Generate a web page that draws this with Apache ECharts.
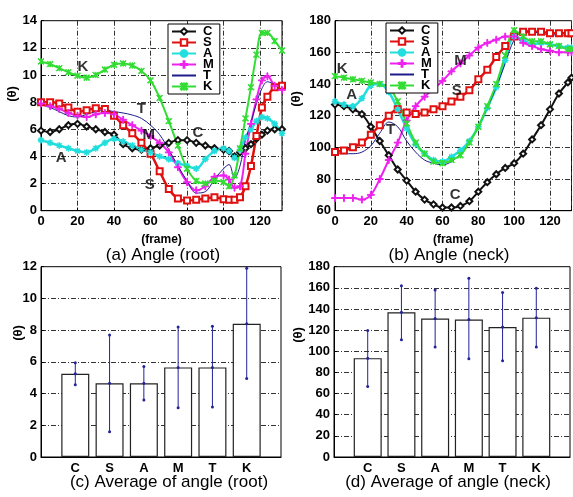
<!DOCTYPE html>
<html>
<head>
<meta charset="utf-8">
<script src="https://cdn.jsdelivr.net/npm/echarts@6/dist/echarts.min.js"></script>
<style>
html,body{margin:0;padding:0;background:#fff}
#main{width:573px;height:497px}
</style>
</head>
<body>
<div id="main"></div>
<script>
// subjects
var names = ['C', 'S', 'A', 'M', 'T', 'K'];

// (a) root angle per frame
var framesRoot = [0,5,10,15,20,25,30,35,40,45,50,55,60,65,70,75,80,85,90,95,100,103,106,109,112,115,118,121,124,128,132];
var rootC = [5.9,5.8,6.0,6.3,6.4,6.2,6.0,5.8,5.6,4.9,4.6,4.5,4.6,4.8,5.0,5.2,5.2,5.0,4.8,4.6,4.5,4.4,4.0,4.3,4.6,4.9,5.3,5.6,5.9,6.0,6.0];
var rootS = [8.0,8.0,7.9,7.6,7.3,7.4,7.55,7.5,7.0,6.3,5.7,5.0,4.2,2.9,1.6,0.9,0.75,0.8,0.9,1.0,0.85,0.8,0.8,1.0,1.8,3.3,5.5,7.6,8.4,9.1,9.2];
var rootA = [5.2,5.0,4.8,4.6,4.4,4.3,4.6,5.0,5.3,5.1,4.8,4.5,4.3,4.0,3.8,3.5,3.3,3.1,3.8,4.4,4.6,4.4,3.9,4.5,5.4,6.0,6.6,6.9,6.8,6.4,5.7];
var rootM = [7.9,7.7,7.5,7.2,7.0,6.9,7.1,7.2,7.1,6.7,6.3,5.9,5.5,5.0,4.3,3.2,2.1,1.5,1.8,2.5,2.6,2.3,1.7,1.8,4.2,6.4,8.2,9.6,9.9,9.2,8.9];
var rootT = [7.8,7.6,7.3,7.0,6.9,7.1,7.3,7.4,7.3,7.2,7.05,6.8,6.3,5.6,4.5,3.3,2.2,1.3,1.4,2.3,3.1,3.4,2.4,3.3,5.2,6.5,7.9,9.0,9.5,9.3,9.0];
var rootK = [11.0,10.8,10.5,10.2,9.95,9.8,10.0,10.4,10.75,10.85,10.7,10.3,9.6,8.3,6.6,4.8,3.1,2.2,2.0,2.2,2.1,1.8,2.6,4.6,6.8,9.1,11.5,13.1,13.1,12.5,11.8];

// (b) neck angle per frame
var framesNeck = [0,5,10,15,20,25,30,35,40,45,50,55,60,65,70,75,80,85,90,95,100,105,110,115,120,125,130,132];
var neckC = [127,126,124,121,113,104,95,86,79,72,67,64,62,62,63,66,72,78,83,87,90,96,105,114,124,134,141,144];
var neckS = [97,98,100,103,108,114,120,124,122,121,122,124,126,129,132,136,143,149,157,164,170,173,173,173,172,172,172,172];
var neckA = [129,127,126,131,139,140,135,124,112,102,96,92,91,94,98,104,113,125,138,155,170,168,165,166,165,164,163,163];
var neckM = [68,68,68,67,70,80,92,103,117,126,132,137,142,148,153,158,163,166,168,170,170,166,164,162,161,160,160,160];
var neckT = [96,96,96,97,101,109,116,113,104,97,92,90,89,91,96,103,113,125,138,153,168,174,173,172,171,171,170,170];
var neckK = [145,144,143,142,141,140,138,129,115,103,96,91,90,92,95,103,113,126,140,158,174,170,167,167,165,164,162,162];

// curve tags: [text, frame, value]
var rootTags = [['K',23,10.6],['T',55,7.5],['M',59,5.6],['C',86,5.7],['A',11,3.9],['S',59.5,1.9]];
var neckTags = [['K',4,149.5],['A',9.3,133],['T',31,111],['M',70,154.5],['S',68,136],['C',67,70]];

// (c) / (d) averages with error bar ends
var avgRoot = [5.25,4.65,4.65,5.65,5.65,8.4];
var avgRootLow = [4.55,1.6,3.6,3.1,3.15,4.95];
var avgRootHigh = [5.95,7.7,5.7,8.2,8.25,11.9];
var avgNeck = [93.5,136.8,131,130,123,131.8];
var avgNeckLow = [66.7,111,104,93,91,104];
var avgNeckHigh = [119.6,162,158,169,155.7,159.7];

var plusPath = 'path://M-1,-0.13L1,-0.13L1,0.13L-1,0.13Z M-0.13,-1L0.13,-1L0.13,1L-0.13,1Z';
var starPath = 'path://M-1,-0.12L1,-0.12L1,0.12L-1,0.12Z M-0.12,-1L0.12,-1L0.12,1L-0.12,1Z M-0.8,-0.63L0.63,0.8L0.8,0.63L-0.63,-0.8Z M0.63,-0.8L0.8,-0.63L-0.63,0.8L-0.8,0.63Z';
var xPath = 'path://M-1,-0.8L0.8,1L1,0.8L-0.8,-1Z M0.8,-1L1,-0.8L-0.8,1L-1,0.8Z M-0.12,-0.9L0.12,-0.9L0.12,0.9L-0.12,0.9Z';

var look = {
    C: {color: '#111', symbol: 'emptyDiamond', size: 6, width: 2},
    S: {color: '#e01010', symbol: 'emptyRect', size: 6, width: 2.5},
    A: {color: '#22dede', symbol: starPath, size: 6, width: 2.5},
    M: {color: '#ee22ee', symbol: plusPath, size: 7, width: 2},
    T: {color: '#1c1c8a', symbol: 'none', size: 0, width: 1},
    K: {color: '#33dd33', symbol: xPath, size: 6, width: 2}
};
var navy = '#22229a';
var dashDot = [5, 2, 1, 2];
var fontFam = 'Liberation Sans, Arial, sans-serif';
var tickFont = {fontSize: 13, fontWeight: 'bold', color: '#000', fontFamily: fontFam};

function pts(xs, ys) {
    return xs.map(function(x, i) { return [x, ys[i]]; });
}

function lineSeries(idx, frames, list) {
    return names.map(function(n, i) {
        var lk = look[n];
        return {
            name: n, type: 'line', xAxisIndex: idx, yAxisIndex: idx,
            data: pts(frames, list[i]),
            smooth: 0.35,
            symbol: lk.symbol, symbolSize: lk.size, showSymbol: lk.symbol !== 'none',
            lineStyle: {color: lk.color, width: lk.width},
            itemStyle: {color: lk.color, borderColor: lk.color, borderWidth: 1},
            emphasis: {disabled: true},
            z: 3
        };
    });
}

function tagSeries(idx, tags) {
    return {
        type: 'scatter', xAxisIndex: idx, yAxisIndex: idx,
        symbolSize: 1, itemStyle: {color: 'rgba(0,0,0,0)'},
        data: tags.map(function(t) { return {name: t[0], value: [t[1], t[2]]}; }),
        label: {show: true, position: 'inside', formatter: '{b}', fontSize: 15, fontWeight: 'bold', color: '#000',
            fontFamily: fontFam},
        z: 6, silent: true
    };
}

function barSeries(idx, avg) {
    return {
        type: 'bar', xAxisIndex: idx, yAxisIndex: idx, barWidth: 28,
        data: avg.map(function(v, i) { return [i + 1, v]; }),
        itemStyle: {color: '#fff', borderColor: '#222', borderWidth: 1.2},
        silent: true
    };
}

function errSeries(idx, low, avg, high) {
    return {
        type: 'custom', xAxisIndex: idx, yAxisIndex: idx, z: 5, silent: true,
        data: avg.map(function(v, i) { return [i + 1, low[i], v, high[i]]; }),
        renderItem: function(params, api) {
            var x = api.value(0);
            var pl = api.coord([x, api.value(1)]);
            var pm = api.coord([x, api.value(2)]);
            var ph = api.coord([x, api.value(3)]);
            var dot = function(p) { return {type: 'circle', shape: {cx: p[0], cy: p[1], r: 1.5}, style: {fill: navy}}; };
            return {type: 'group', children: [
                {type: 'line', shape: {x1: pl[0], y1: pl[1], x2: ph[0], y2: ph[1]}, style: {stroke: navy, lineWidth: 1}},
                dot(pl), dot(pm), dot(ph)
            ]};
        }
    };
}

function frameAxis(idx) {
    return {
        type: 'value', gridIndex: idx, min: 0, max: 132, interval: 20,
        name: '(frame)', nameLocation: 'middle', nameGap: 23,
        nameTextStyle: {fontSize: 12, fontWeight: 'bold', color: '#000', fontFamily: fontFam},
        axisLine: {lineStyle: {color: '#000'}},
        axisTick: {inside: true, length: 3, lineStyle: {color: '#000'}},
        axisLabel: Object.assign({margin: 4, showMaxLabel: false}, tickFont),
        splitLine: {show: true, lineStyle: {color: '#333', type: dashDot}}
    };
}

function catAxis(idx) {
    return {
        type: 'value', gridIndex: idx, min: 0, max: 7, interval: 1,
        axisLine: {lineStyle: {color: '#000'}},
        axisTick: {show: false},
        axisLabel: Object.assign({margin: 5, formatter: function(v) { return names[v - 1] || ''; }}, tickFont),
        splitLine: {show: false}
    };
}

function valAxis(idx, min, max, step) {
    return {
        type: 'value', gridIndex: idx, min: min, max: max, interval: step,
        axisLine: {show: true, lineStyle: {color: '#000'}},
        axisTick: {inside: true, length: 3, lineStyle: {color: '#000'}},
        axisLabel: Object.assign({margin: 4}, tickFont),
        splitLine: {show: true, lineStyle: {color: '#333', type: dashDot}}
    };
}

function legendAt(left, top) {
    return {
        data: names.map(function(n) {
            return n === 'T' ? {name: n, itemStyle: {opacity: 0}} : {name: n};
        }),
        orient: 'vertical', left: left, top: top,
        backgroundColor: '#fff', borderColor: '#000', borderWidth: 1,
        padding: [1, 6, 1, 3], itemGap: -2, itemWidth: 24, itemHeight: 8,
        selectedMode: false,
        textStyle: {fontSize: 13, fontWeight: 'bold', color: '#000', lineHeight: 10, padding: [0, 0, 0, 2],
            fontFamily: fontFam}
    };
}

function caption(x, y, text, size, bold, rot) {
    return {
        type: 'text', x: x, y: y, rotation: rot || 0, z: 10,
        style: {text: text, fontSize: size, fontWeight: bold ? 'bold' : 'normal', fill: '#000',
            align: 'center', verticalAlign: 'middle', fontFamily: fontFam}
    };
}

var chart = echarts.init(document.getElementById('main'), null, {renderer: 'canvas'});

var option = {
    animation: false,
    backgroundColor: '#fff',
    grid: [
        {left: 41, top: 20.7, width: 241, height: 190, show: true, borderColor: '#000', borderWidth: 1},
        {left: 335, top: 20.7, right: 1.5, height: 190, show: true, borderColor: '#000', borderWidth: 1},
        {left: 41, top: 266.7, width: 240, height: 190.3, show: true, borderColor: '#000', borderWidth: 1},
        {left: 334, top: 266.7, width: 238, height: 190.3, show: true, borderColor: '#000', borderWidth: 1}
    ],
    xAxis: [frameAxis(0), frameAxis(1), catAxis(2), catAxis(3)],
    yAxis: [valAxis(0, 0, 14, 2), valAxis(1, 60, 180, 20), valAxis(2, 0, 12, 2), valAxis(3, 0, 180, 20)],
    legend: [legendAt(168, 24), legendAt(386, 23)],
    series: [].concat(
        lineSeries(0, framesRoot, [rootC, rootS, rootA, rootM, rootT, rootK]),
        lineSeries(1, framesNeck, [neckC, neckS, neckA, neckM, neckT, neckK]),
        [tagSeries(0, rootTags), tagSeries(1, neckTags),
         barSeries(2, avgRoot), errSeries(2, avgRootLow, avgRoot, avgRootHigh),
         barSeries(3, avgNeck), errSeries(3, avgNeckLow, avgNeck, avgNeckHigh)]
    ),
    graphic: [
        caption(163, 255, '(a) Angle (root)', 17),
        caption(449, 255, '(b) Angle (neck)', 17),
        caption(169, 482, '(c) Average of angle (root)', 17),
        caption(448, 482, '(d) Average of angle (neck)', 17),
        caption(12, 94, '(θ)', 13, true, Math.PI / 2),
        caption(296, 99, '(θ)', 13, true, Math.PI / 2),
        caption(18, 333, '(θ)', 13, true, Math.PI / 2),
        caption(298, 335, '(θ)', 13, true, Math.PI / 2)
    ]
};

chart.setOption(option);
</script>
</body>
</html>
